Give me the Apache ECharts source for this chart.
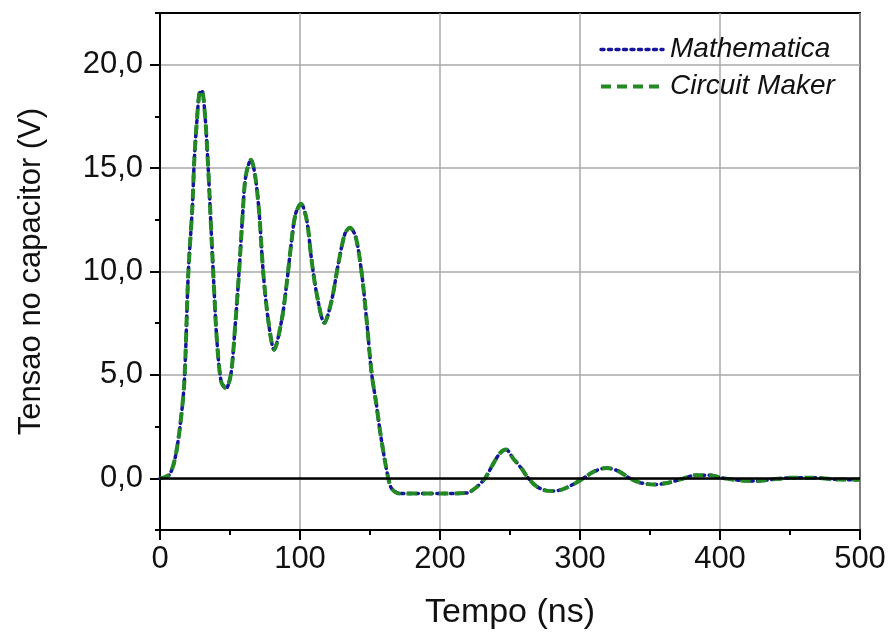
<!DOCTYPE html>
<html>
<head>
<meta charset="utf-8">
<script src="https://cdn.jsdelivr.net/npm/echarts@6/dist/echarts.min.js"></script>
<style>
  html, body { margin: 0; padding: 0; background: #fff; }
  #chart { width: 892px; height: 637px; }
</style>
</head>
<body>
<div id="chart"></div>
<script>
// ---- data ----
const tempo = [0, 3, 7, 10.7, 14.3, 17.4, 20.2, 23.1, 24.5, 26.2, 28.1, 29.8, 32.1, 34.5, 36.9, 38.8, 40.5, 43.6, 47.1, 50.7,
  53.6, 56.4, 58.8, 61.2, 65, 67.9, 70.7, 73.8, 77.4, 81.5, 86.9, 90.5, 94, 96.9, 100.7, 104.8, 108.3, 111.9, 117.4, 122.6,
  127.4, 132.1, 135.7, 139.8, 144.1, 147.6, 151.2, 154.5, 157.1, 160.5, 163.1, 165.5, 171.4, 185.7, 200, 219, 226.2, 232.1, 238.1, 242.9,
  247.1, 252.4, 258.3, 263.1, 269, 275, 280, 286.9, 295.2, 302.4, 309.5, 319, 327.4, 335.7, 342.9, 352.4, 361.9, 371.4, 383.3, 392.9,
  401.2, 414.3, 426.2, 438.1, 452.4, 466.7, 481, 500];
const mathematica = [0, 0.05, 0.2, 0.95, 2.5, 4.7, 9.9, 13.1, 15.4, 17.15, 18.6, 18.76, 17.6, 14.9, 11.5, 8.9, 6.8, 4.7, 4.34, 5.06,
  7.3, 9.9, 12.5, 14.6, 15.4, 14.65, 12.96, 9.9, 7.6, 6.22, 7.64, 9.41, 11.5, 12.8, 13.28, 12.48, 10.54, 8.93, 7.51, 8.6,
  10.38, 11.83, 12.12, 11.67, 9.9, 7.64, 5.06, 3.6, 2.32, 0.9, 0, -0.5, -0.74, -0.74, -0.74, -0.71, -0.42, 0, 0.71, 1.22,
  1.39, 0.95, 0.47, 0, -0.39, -0.58, -0.61, -0.55, -0.29, 0, 0.31, 0.5, 0.35, 0, -0.21, -0.3, -0.23, -0.06, 0.15, 0.15,
  0.02, -0.1, -0.13, -0.05, 0.03, 0.03, -0.05, -0.07];
const circuitMaker = [0, 0.05, 0.2, 0.95, 2.5, 4.7, 9.9, 13.1, 15.4, 17.15, 18.6, 18.76, 17.6, 14.9, 11.5, 8.9, 6.8, 4.7, 4.34, 5.06,
  7.3, 9.9, 12.5, 14.6, 15.4, 14.65, 12.96, 9.9, 7.6, 6.22, 7.64, 9.41, 11.5, 12.8, 13.28, 12.48, 10.54, 8.93, 7.51, 8.6,
  10.38, 11.83, 12.12, 11.67, 9.9, 7.64, 5.06, 3.6, 2.32, 0.9, 0, -0.5, -0.74, -0.74, -0.74, -0.71, -0.42, 0, 0.71, 1.22,
  1.39, 0.95, 0.47, 0, -0.39, -0.58, -0.61, -0.55, -0.29, 0, 0.31, 0.5, 0.35, 0, -0.21, -0.3, -0.23, -0.06, 0.15, 0.15,
  0.02, -0.1, -0.13, -0.05, 0.03, 0.03, -0.05, -0.07];
const seriesNames = ['Mathematica', 'Circuit Maker'];
const yTickValues = [0, 5, 10, 15, 20];
const xTickValues = [0, 100, 200, 300, 400, 500];
const xTitle = 'Tempo (ns)';
const yTitle = 'Tensao no capacitor (V)';

// ---- chart ----
const FONT = "'Liberation Sans', Arial, sans-serif";
const BLUE = '#16169a', GREEN = '#238a23';
const pairs = (xs, ys) => xs.map((x, i) => [x, ys[i]]);
const chart = echarts.init(document.getElementById('chart'), null, { renderer: 'canvas' });

chart.setOption({
  animation: false,
  backgroundColor: '#ffffff',
  grid: { left: 160, right: 32, top: 13, bottom: 107, show: true, borderColor: '#000', borderWidth: 2, backgroundColor: 'transparent' },
  legend: {
    orient: 'vertical',
    left: 594, top: 29,
    itemWidth: 62, itemHeight: 14, itemGap: 6,
    data: [
      { name: seriesNames[0], lineStyle: { width: 3.5, type: [3, 4.5], color: BLUE } },
      { name: seriesNames[1], lineStyle: { width: 4, type: [10, 6], color: GREEN } }
    ],
    itemStyle: { opacity: 0 },
    textStyle: { fontFamily: FONT, fontSize: 28, fontStyle: 'italic', color: '#111', lineHeight: 31, padding: [0, 0, 0, 2] }
  },
  xAxis: {
    type: 'value', min: xTickValues[0], max: xTickValues[xTickValues.length - 1], interval: 100,
    name: xTitle, nameLocation: 'middle', nameGap: 66,
    nameTextStyle: { fontFamily: FONT, fontSize: 34, color: '#111' },
    axisLine: { onZero: false, lineStyle: { color: '#000', width: 2 } },
    axisTick: { inside: false, length: 10, lineStyle: { color: '#000', width: 2 } },
    minorTick: { show: true, splitNumber: 2, length: 5, lineStyle: { color: '#000', width: 2 } },
    axisLabel: { fontFamily: FONT, fontSize: 31, color: '#111', margin: 14 },
    splitLine: { show: true, lineStyle: { color: '#a8a8a8', width: 1.5 } }
  },
  yAxis: [{
    type: 'value', min: -2.5, max: 22.5,
    name: yTitle, nameLocation: 'middle', nameGap: 113,
    nameTextStyle: { fontFamily: FONT, fontSize: 31, color: '#111' },
    axisLine: { onZero: false, lineStyle: { color: '#000', width: 2 } },
    axisTick: { inside: false, length: 10, customValues: yTickValues, lineStyle: { color: '#000', width: 2 } },
    axisLabel: { fontFamily: FONT, fontSize: 31, color: '#111', margin: 17, customValues: yTickValues,
      formatter: v => v.toFixed(1).replace('.', ',') },
    splitLine: { show: true, lineStyle: { color: '#a8a8a8', width: 1.5 } }
  }, {
    type: 'value', min: -2.5, max: 22.5, interval: 2.5, position: 'left',
    axisLine: { show: false },
    axisTick: { inside: false, length: 5, lineStyle: { color: '#000', width: 2 } },
    axisLabel: { show: false },
    splitLine: { show: false }
  }],
  series: [{
    name: seriesNames[0], type: 'line', yAxisIndex: 0,
    data: pairs(tempo, mathematica),
    showSymbol: false, symbol: 'none', smooth: 0.3, z: 3,
    lineStyle: { color: BLUE, width: 3.5, type: [2.5, 4.5], cap: 'round' },
    itemStyle: { color: BLUE },
    markLine: {
      silent: true, symbol: 'none', label: { show: false },
      lineStyle: { color: '#000', width: 2.5, type: 'solid' },
      data: [{ yAxis: 0 }]
    }
  }, {
    name: seriesNames[1], type: 'line', yAxisIndex: 0,
    data: pairs(tempo, circuitMaker),
    showSymbol: false, symbol: 'none', smooth: 0.3, z: 4,
    lineStyle: { color: GREEN, width: 4, type: [10, 6] },
    itemStyle: { color: GREEN }
  }]
});
</script>
</body>
</html>
